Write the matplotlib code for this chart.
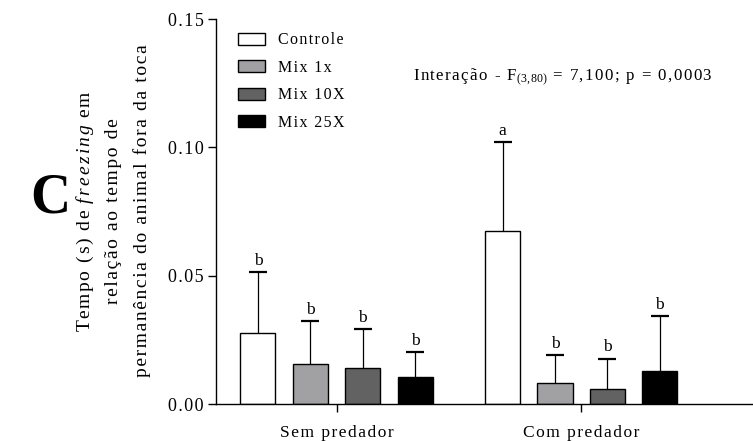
import matplotlib
matplotlib.use('Agg')
import matplotlib.pyplot as plt
from matplotlib.patches import Patch
import numpy as np

plt.rcParams['font.family'] = ['Liberation Serif', 'DejaVu Serif']
plt.rcParams['mathtext.fontset'] = 'custom'
plt.rcParams['mathtext.rm'] = 'Liberation Serif'
plt.rcParams['mathtext.it'] = 'Liberation Serif:italic'
plt.rcParams['mathtext.bf'] = 'Liberation Serif:bold'

groups = ['Sem predador', 'Com predador']
treatments = ['Controle', 'Mix 1x', 'Mix 10X', 'Mix 25X']
colors = ['#ffffff', '#a1a1a4', '#626262', '#000000']

sem_mean = [0.0275, 0.0155, 0.0139, 0.0105]
sem_err = [0.0240, 0.0167, 0.0152, 0.0099]
com_mean = [0.0674, 0.0081, 0.0058, 0.0127]
com_err = [0.0347, 0.0110, 0.0119, 0.0217]
sem_letters = ['b', 'b', 'b', 'b']
com_letters = ['a', 'b', 'b', 'b']

yticks = [0.00, 0.05, 0.10, 0.15]


def spaced(s, gap='\u200a'):
    # the original figure uses wide letter spacing everywhere
    return gap.join(s)


fig = plt.figure(figsize=(7.53, 4.41), dpi=100)
ax = fig.add_axes([0.2869, 0.0839, 0.7131, 0.873])

group_offset = 4.67
width = 0.67
for g, (means, errs, letters) in enumerate([(sem_mean, sem_err, sem_letters),
                                            (com_mean, com_err, com_letters)]):
    xs = np.arange(4) + g * group_offset
    ax.bar(xs, means, width=width, color=colors, edgecolor='black', linewidth=1.0, zorder=2)
    _, caps, _ = ax.errorbar(xs, means, yerr=[np.zeros(4), errs], fmt='none', ecolor='black',
                             elinewidth=0.9, capsize=6.5, capthick=1.6, zorder=1)
    caps[0].set_visible(False)  # only the upper half is drawn
    for x, m, e, l in zip(xs, means, errs, letters):
        ax.text(x, m + e + 0.0012, l, ha='center', va='bottom', fontsize=12.5)

ax.set_xlim(-0.80, 9.45)
ax.set_ylim(0, 0.15)
ax.set_xticks([1.5, 1.5 + group_offset], [spaced(g) for g in groups], fontsize=12.5)
ax.set_yticks(yticks, [spaced(f'{t:.2f}') for t in yticks], fontsize=13)
ax.tick_params(axis='y', direction='out', length=6, width=1, pad=3)
ax.tick_params(axis='x', direction='out', length=6, width=1, pad=9)
for s in ['top', 'right']:
    ax.spines[s].set_visible(False)
for s in ['left', 'bottom']:
    ax.spines[s].set_linewidth(1.0)

handles = [Patch(facecolor=c, edgecolor='black', linewidth=1.0) for c in colors]
ax.legend(handles, [spaced(t) for t in treatments], loc='upper left',
          bbox_to_anchor=(0.015, 1.003), frameon=False, fontsize=11.5,
          handlelength=1.65, handleheight=0.8, labelspacing=0.72, handletextpad=0.85)

ax.text(0.367, 0.847, spaced('Interação - F') + r'$_{\mathrm{(3,80)}}$'
        + spaced(' = 7,100; p = 0,0003'),
        transform=ax.transAxes, ha='left', va='center', fontsize=12.2)

# y label: three lines, the first with an italic word
ylines = [spaced('Tempo (s) de ') + r'$\mathit{f\,r\,e\,e\,z\,i\,n\,g}$' + spaced(' em'),
          spaced('relação ao tempo de'),
          spaced('permanência do animal fora da toca')]
for i, line in enumerate(ylines):
    fig.text((85 + 28.5 * i) / 753, 1 - 211 / 441, line, rotation=90,
             ha='center', va='center', fontsize=14)

fig.text(50 / 753, 1 - 198 / 441, 'C', fontsize=40, fontweight='bold',
         ha='center', va='center')

fig.savefig('out.png', dpi=100)
